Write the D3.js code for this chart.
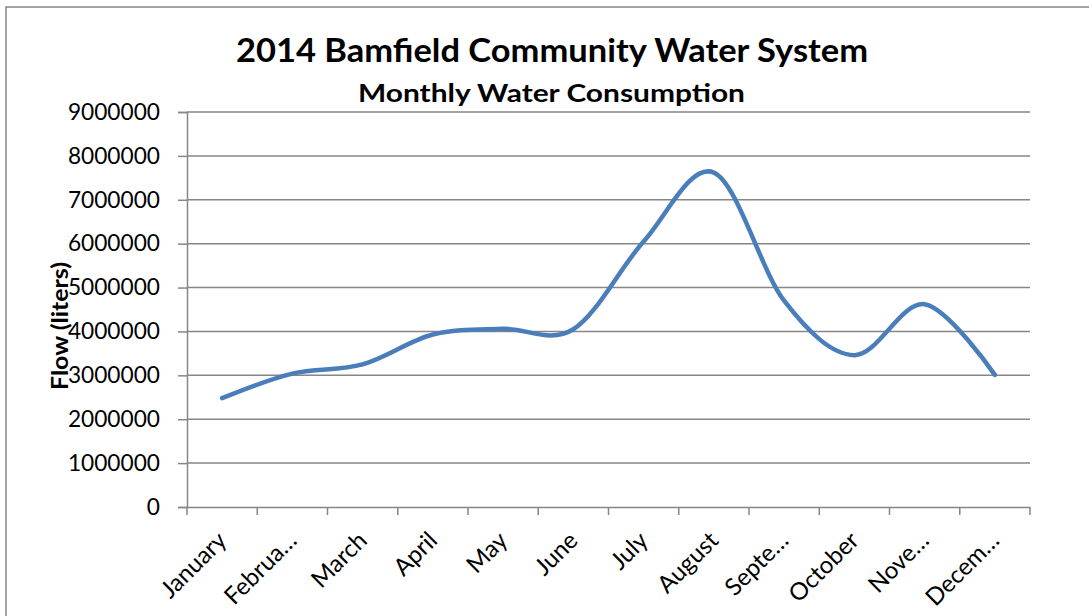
<!DOCTYPE html>
<html><head><meta charset="utf-8">
<script src="https://cdn.jsdelivr.net/npm/d3@7"></script>
<style>body{margin:0;background:#fff}svg{display:block}</style>
</head><body>
<svg id="c" width="1089" height="616"></svg>
<script>
const months = ["January","Februa…","March","April","May","June","July","August","Septe…","October","Nove…","Decem…"];
const flow = [2480000,3040000,3250000,3930000,4060000,4050000,6050000,7620000,4700000,3460000,4620000,3010000];
const yTicks = [0,1000000,2000000,3000000,4000000,5000000,6000000,7000000,8000000,9000000];
const title = "2014 Bamfield Community Water System";
const subtitle = "Monthly Water Consumption";
const yLabel = "Flow (liters)";

const svg = d3.select("#c");
const L=187, R=1030, T=112, B=507;
const font = "Lato, 'Open Sans', sans-serif";
const grey = "#868686";

svg.append("rect").attr("x",6).attr("y",7).attr("width",1100).attr("height",700)
  .attr("fill","#fff").attr("stroke",grey).attr("stroke-width",1.5);

const x = d3.scaleBand().domain(months).range([L,R]).padding(0);
const y = d3.scaleLinear().domain([0,9000000]).range([B,T]);

// gridlines
svg.append("g").selectAll("line").data(yTicks.filter(d=>d>0)).join("line")
  .attr("x1",L).attr("x2",R).attr("y1",d=>y(d)).attr("y2",d=>y(d))
  .attr("stroke",grey).attr("stroke-width",1.5);

// y axis
const ya = svg.append("g").attr("transform",`translate(${L},0)`)
  .call(d3.axisLeft(y).tickValues(yTicks).tickSize(9).tickPadding(18).tickFormat(d3.format("d")));
ya.select(".domain").attr("stroke",grey).attr("stroke-width",1.5);
ya.selectAll(".tick line").attr("stroke",grey).attr("stroke-width",1.5);
ya.selectAll("text").attr("font-family",font).attr("font-size",22.7).attr("fill","#000");

// x axis
const xa = svg.append("g").attr("transform",`translate(0,${B})`)
  .call(d3.axisBottom(x).tickSize(0).tickFormat(""));
xa.select(".domain").attr("stroke",grey).attr("stroke-width",1.5);
const bounds = months.map(m=>x(m)).concat([R]);
xa.append("g").selectAll("line").data(bounds).join("line")
  .attr("x1",d=>d).attr("x2",d=>d).attr("y1",0).attr("y2",8)
  .attr("stroke",grey).attr("stroke-width",1.5);

svg.append("g").selectAll("text").data(months).join("text")
  .attr("transform",d=>`translate(${x(d)+x.bandwidth()/2},${B+29}) rotate(-45)`)
  .attr("text-anchor","end").attr("dy","0.35em")
  .attr("font-family",font).attr("font-size",24).attr("fill","#000")
  .text(d=>d);

// line
const line = d3.line().x((d,i)=>x(months[i])+x.bandwidth()/2).y(d=>y(d)).curve(d3.curveCardinal.tension(0));
svg.append("path").datum(flow).attr("d",line).attr("fill","none")
  .attr("stroke","#4a7ebb").attr("stroke-width",4.5).attr("stroke-linecap","round").attr("stroke-linejoin","round");

// titles
svg.append("text").attr("x",236).attr("y",62)
  .attr("textLength",632).attr("lengthAdjust","spacingAndGlyphs")
  .attr("font-family",font).attr("font-weight","bold").attr("font-size",32).text(title);
svg.append("text").attr("x",358).attr("y",102)
  .attr("textLength",387).attr("lengthAdjust","spacingAndGlyphs")
  .attr("font-family",font).attr("font-weight","bold").attr("font-size",25).text(subtitle);
svg.append("text").attr("transform","translate(68,390) rotate(-90)")
  .attr("textLength",128).attr("lengthAdjust","spacingAndGlyphs")
  .attr("font-family",font).attr("font-weight","bold").attr("font-size",23).text(yLabel);
</script>
</body></html>
